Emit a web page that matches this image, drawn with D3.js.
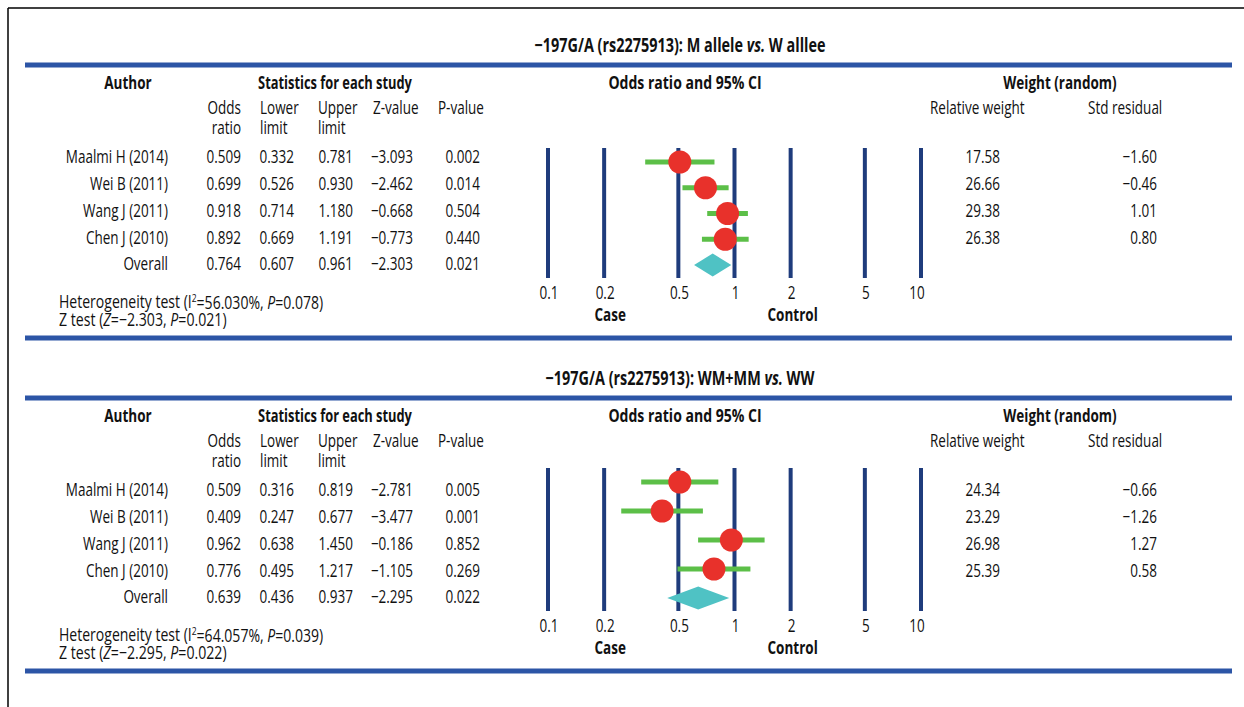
<!DOCTYPE html>
<html>
<head>
<meta charset="utf-8">
<title>Forest plot -197G/A</title>
<script src="https://cdn.jsdelivr.net/npm/d3@7"></script>
<style>
  body { margin: 0; background: #fff; }
  svg text { font-family: "Open Sans", "Noto Sans", sans-serif; font-size: 18px; fill: #111; }
  .bold { font-weight: bold; }
  .title { font-size: 19px; }
</style>
</head>
<body>
<div id="chart"></div>
<script>
// ---- data ----
var authors = ["Maalmi H (2014)", "Wei B (2011)", "Wang J (2011)", "Chen J (2010)", "Overall"];
var ticks = [0.1, 0.2, 0.5, 1, 2, 5, 10];

// panel 1: M allele vs. W allele
var or1 = [0.509, 0.699, 0.918, 0.892, 0.764];
var lower1 = [0.332, 0.526, 0.714, 0.669, 0.607];
var upper1 = [0.781, 0.930, 1.180, 1.191, 0.961];
var zval1 = [-3.093, -2.462, -0.668, -0.773, -2.303];
var pval1 = [0.002, 0.014, 0.504, 0.440, 0.021];
var weight1 = [17.58, 26.66, 29.38, 26.38];
var resid1 = [-1.60, -0.46, 1.01, 0.80];

// panel 2: WM+MM vs. WW
var or2 = [0.509, 0.409, 0.962, 0.776, 0.639];
var lower2 = [0.316, 0.247, 0.638, 0.495, 0.436];
var upper2 = [0.819, 0.677, 1.450, 1.217, 0.937];
var zval2 = [-2.781, -3.477, -0.186, -1.105, -2.295];
var pval2 = [0.005, 0.001, 0.852, 0.269, 0.022];
var weight2 = [24.34, 23.29, 26.98, 25.39];
var resid2 = [-0.66, -1.26, 1.27, 0.58];

var panels = [
  {title: ["M allele ", "W alllee"], or: or1, lo: lower1, hi: upper1, z: zval1, p: pval1, w: weight1, r: resid1,
   het: ["56.030%", "0.078"], zt: [-2.303, 0.021], top: 0, lineTop: 148, markTop: 162},
  {title: ["WM+MM ", "WW"], or: or2, lo: lower2, hi: upper2, z: zval2, p: pval2, w: weight2, r: resid2,
   het: ["64.057%", "0.039"], zt: [-2.295, 0.022], top: 333, lineTop: 135, markTop: 149}
];

var W = 1244, H = 707;
var SX = 0.75; // squeeze text sideways to look like a condensed face
var svg = d3.select("#chart").append("svg").attr("width", W).attr("height", H);

// frame (top and left edge)
svg.append("line").attr("x1", 8).attr("y1", 8).attr("x2", W).attr("y2", 8).attr("stroke", "#000").attr("stroke-width", 1.5);
svg.append("line").attr("x1", 8).attr("y1", 8).attr("x2", 8).attr("y2", H).attr("stroke", "#000").attr("stroke-width", 1.5);

var x = d3.scaleLog().domain([0.1, 10]).range([548, 921]);
var f3 = d3.format(".3f"), f2 = d3.format(".2f");
var rowY = d3.scalePoint().domain(d3.range(5)).range([157, 264]);

function pos(px, py, sx) { return "translate(" + px + "," + py + ") scale(" + (sx || SX) + ",1)"; }
function label(g, px, py, str, anchor, bold, sx) {
  var t = g.append("text").attr("transform", pos(px, py, sx)).attr("dy", "0.35em")
    .attr("text-anchor", anchor || "start");
  if (bold) t.attr("class", "bold");
  if (str) t.text(str);
  return t;
}

panels.forEach(function(pn) {
  var g = svg.append("g").attr("transform", "translate(0," + pn.top + ")");

  // title
  var t = label(g, 680, 45, null, "middle", true, 0.76).attr("class", "bold title");
  t.append("tspan").text("\u2212197G/A (rs2275913): " + pn.title[0]);
  t.append("tspan").attr("font-style", "italic").text("vs.");
  t.append("tspan").text(" " + pn.title[1]);

  // blue rules
  [65, 338].forEach(function(yy) {
    g.append("line").attr("x1", 25).attr("x2", 1232).attr("y1", yy).attr("y2", yy)
      .attr("stroke", "#2c55a6").attr("stroke-width", 5);
  });

  // headers
  var heads = [["Author", 128, 0.75], ["Statistics for each study", 335, 0.715], ["Odds ratio and 95% CI", 685, 0.78], ["Weight (random)", 1060, 0.75]];
  heads.forEach(function(h) { label(g, h[1], 83, h[0], "middle", true, h[2]); });
  var subs = [["Odds", "ratio", 241, "end"], ["Lower", "limit", 260, "start"], ["Upper", "limit", 318, "start"],
              ["Z-value", "", 373, "start"], ["P-value", "", 438, "start"]];
  subs.forEach(function(s) {
    label(g, s[2], 108, s[0], s[3]);
    if (s[1]) label(g, s[2], 128, s[1], s[3]);
  });
  label(g, 930, 108, "Relative weight");
  label(g, 1088, 108, "Std residual");

  // table rows
  var cols = [
    {v: authors, x: 168, fmt: String},
    {v: pn.or, x: 241, fmt: f3},
    {v: pn.lo, x: 294, fmt: f3},
    {v: pn.hi, x: 353, fmt: f3},
    {v: pn.z, x: 413, fmt: f3},
    {v: pn.p, x: 480, fmt: f3},
    {v: pn.w, x: 1000, fmt: f2},
    {v: pn.r, x: 1157, fmt: f2}
  ];
  cols.forEach(function(c) {
    g.selectAll(null).data(c.v).enter().append("text")
      .attr("transform", function(d, i) { return pos(c.x, rowY(i)); }).attr("dy", "0.35em")
      .attr("text-anchor", "end").text(function(d) { return c.fmt(d); });
  });

  // forest plot
  var my = d3.scalePoint().domain(d3.range(5)).range([pn.markTop, 265]);
  var lineBottom = 278;
  g.selectAll(null).data(ticks).enter().append("line")
    .attr("x1", function(d) { return x(d); }).attr("x2", function(d) { return x(d); })
    .attr("y1", pn.lineTop).attr("y2", lineBottom)
    .attr("stroke", "#1f3c7c").attr("stroke-width", 4);
  g.selectAll(null).data(ticks).enter().append("text")
    .attr("transform", function(d) { return pos(x(d) + (d === 10 ? -4 : 1), 293); }).attr("dy", "0.35em")
    .attr("text-anchor", "middle").text(function(d) { return d; });
  label(g, x(0.2) + 6, 315, "Case", "middle", true);
  label(g, x(2) + 2, 315, "Control", "middle", true);

  var idx = d3.range(4);
  g.selectAll(null).data(idx).enter().append("line")
    .attr("x1", function(i) { return x(pn.lo[i]); }).attr("x2", function(i) { return x(pn.hi[i]); })
    .attr("y1", function(i) { return my(i); }).attr("y2", function(i) { return my(i); })
    .attr("stroke", "#5cbf48").attr("stroke-width", 5);
  g.selectAll(null).data(idx).enter().append("circle")
    .attr("cx", function(i) { return x(pn.or[i]); }).attr("cy", function(i) { return my(i); })
    .attr("r", 11.5).attr("fill", "#e8312b");
  var dy = my(4), hh = 11.5;
  g.append("path")
    .attr("d", "M" + x(pn.lo[4]) + "," + dy + "L" + x(pn.or[4]) + "," + (dy - hh) +
               "L" + x(pn.hi[4]) + "," + dy + "L" + x(pn.or[4]) + "," + (dy + hh) + "Z")
    .attr("fill", "#4fc2c4");

  // footer
  var h1 = label(g, 59, 302, null, "start", false, 0.78);
  h1.append("tspan").text("Heterogeneity test (I");
  h1.append("tspan").attr("font-size", "11px").attr("dy", "-0.6em").text("2");
  h1.append("tspan").attr("dy", "0.38em").text("=" + pn.het[0] + ", ");
  h1.append("tspan").attr("font-style", "italic").text("P");
  h1.append("tspan").text("=" + pn.het[1] + ")");
  var h2 = label(g, 59, 320, null, "start", false, 0.785);
  h2.append("tspan").text("Z test (");
  h2.append("tspan").attr("font-style", "italic").text("Z");
  h2.append("tspan").text("=" + f3(pn.zt[0]) + ", ");
  h2.append("tspan").attr("font-style", "italic").text("P");
  h2.append("tspan").text("=" + f3(pn.zt[1]) + ")");
});
</script>
</body>
</html>
